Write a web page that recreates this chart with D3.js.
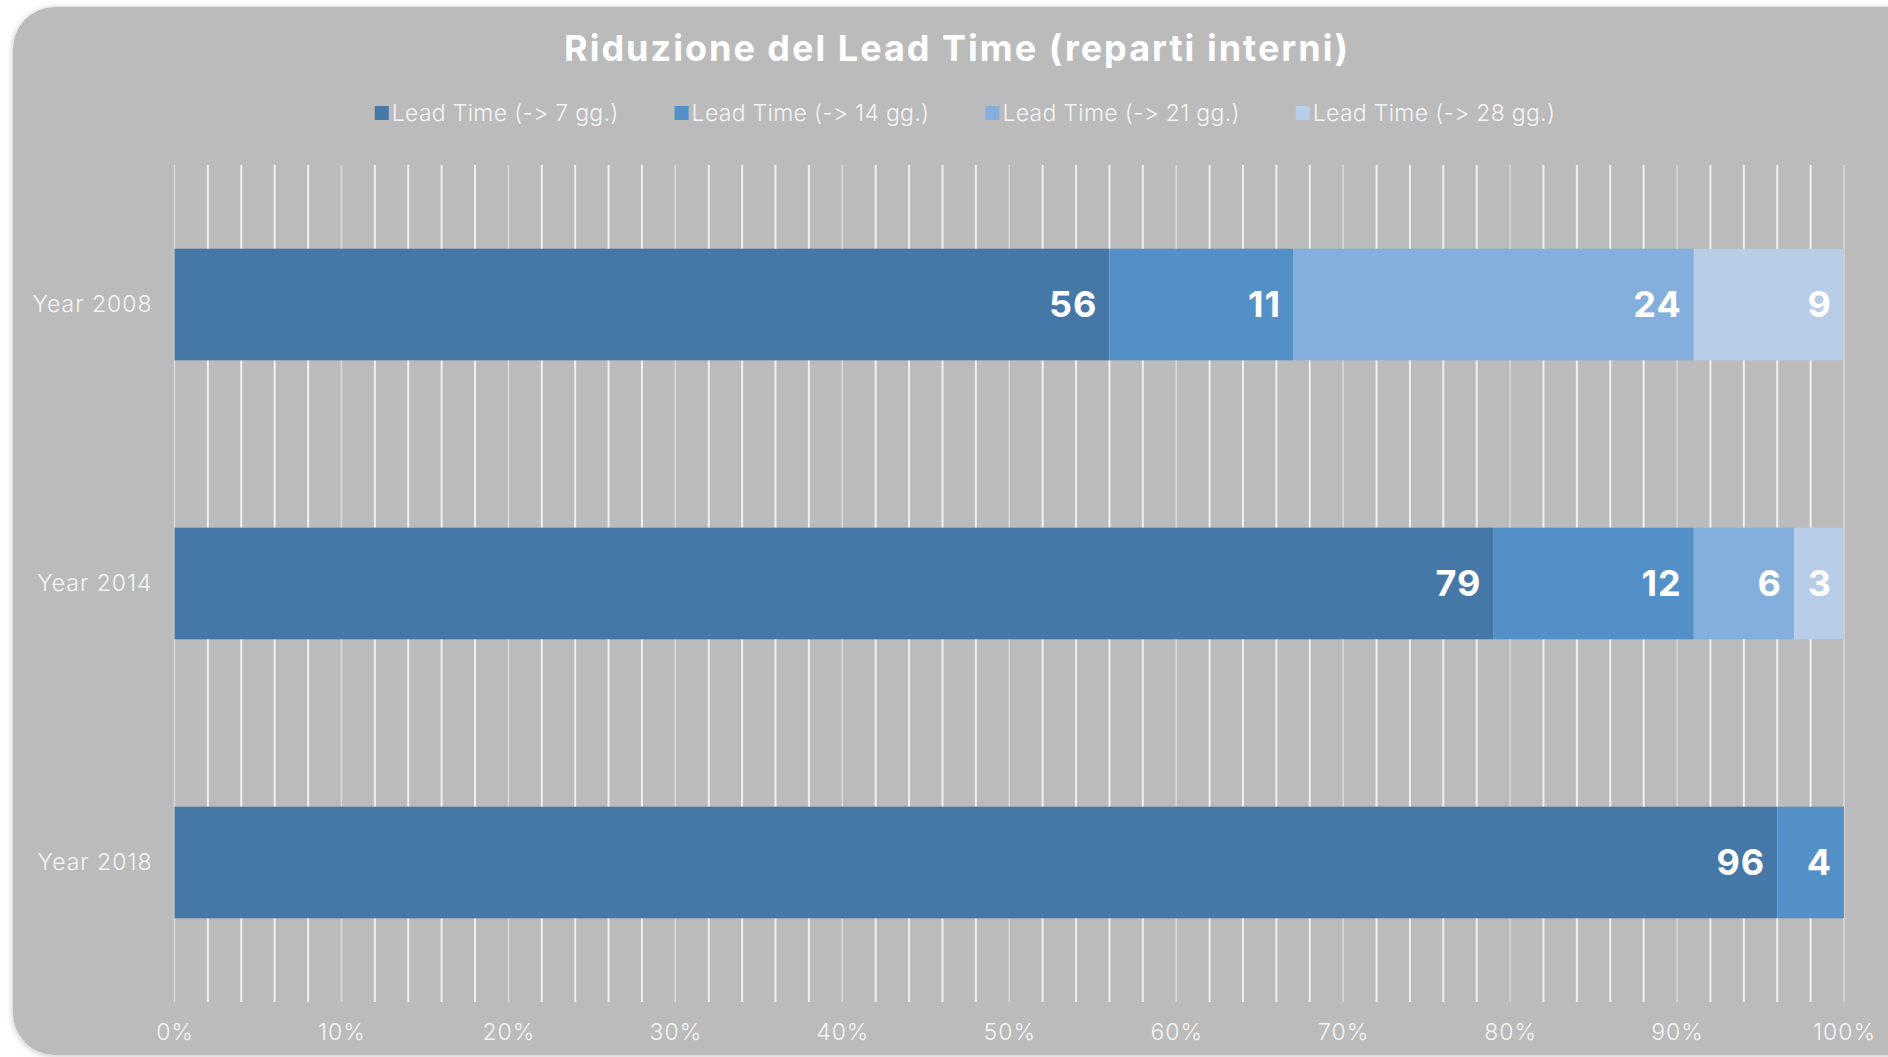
<!DOCTYPE html>
<html>
<head>
<meta charset="utf-8">
<script src="https://cdn.jsdelivr.net/npm/d3@7"></script>
<style>
  html, body { margin: 0; padding: 0; background: #ffffff; }
  svg { display: block; }
  text { font-family: Inter, "Open Sans", sans-serif; font-feature-settings: "calt" 0, "liga" 0; font-variant-ligatures: none; }
</style>
</head>
<body>
<svg id="chart"></svg>
<script>
// data
const categories = ['Year 2008', 'Year 2014', 'Year 2018'];
const seriesNames = ['Lead Time (-> 7 gg.)', 'Lead Time (-> 14 gg.)', 'Lead Time (-> 21 gg.)', 'Lead Time (-> 28 gg.)'];
const lead7 = [56, 79, 96];
const lead14 = [11, 12, 4];
const lead21 = [24, 6, 0];
const lead28 = [9, 3, 0];
const xTicks = [0, 0.1, 0.2, 0.3, 0.4, 0.5, 0.6, 0.7, 0.8, 0.9, 1];
const colors = ['#4577a7', '#5390c7', '#84afdc', '#b8cde8'];

const W = 1888, H = 1057;
const margin = { top: 165, right: 44, bottom: 55, left: 174.5 };
const width = W - margin.left - margin.right;
const height = H - margin.top - margin.bottom;

const svg = d3.select('#chart').attr('width', W).attr('height', H);

// card with shadow
const defs = svg.append('defs');
const f = defs.append('filter').attr('id', 'shadow').attr('x', '-5%').attr('y', '-5%').attr('width', '110%').attr('height', '110%');
f.append('feDropShadow').attr('dx', 0).attr('dy', 1).attr('stdDeviation', 3).attr('flood-color', '#000').attr('flood-opacity', 0.25);
svg.append('rect').attr('x', 13).attr('y', 7).attr('width', W + 40).attr('height', H - 9)
  .attr('rx', 42).attr('fill', '#bbbbbb').attr('filter', 'url(#shadow)');

// title
svg.append('text').attr('x', 957).attr('y', 61).attr('text-anchor', 'middle')
  .attr('fill', '#ffffff').style('font-size', '36px').style('font-weight', 700)
  .style('letter-spacing', '2px')
  .text('Riduzione del Lead Time (reparti interni)');

const rows = categories.map((c, i) => ({ cat: c, s0: lead7[i], s1: lead14[i], s2: lead21[i], s3: lead28[i] }));
const keys = ['s0', 's1', 's2', 's3'];
const stacked = d3.stack().keys(keys)(rows);

const x = d3.scaleLinear().domain([0, 1]).range([0, width]);
const y = d3.scaleBand().domain(categories).range([0, height]).paddingInner(0.6).paddingOuter(0.3);

const g = svg.append('g').attr('transform', 'translate(' + margin.left + ',' + margin.top + ')');

// gridlines every 2%
const grid = d3.range(0, 51).map(d => d / 50);
g.append('g').selectAll('line').data(grid).join('line')
  .attr('x1', d => x(d)).attr('x2', d => x(d))
  .attr('y1', 0).attr('y2', height)
  .attr('stroke', (d, i) => i % 5 === 0 ? '#dadada' : '#f0f0f0')
  .attr('stroke-width', (d, i) => i % 5 === 0 ? 1.5 : 2);

// bars
const layers = g.append('g').selectAll('g').data(stacked).join('g')
  .attr('fill', (d, i) => colors[i]);
layers.selectAll('rect').data(d => d).join('rect')
  .attr('x', d => x(d[0] / 100))
  .attr('width', d => x(d[1] / 100) - x(d[0] / 100))
  .attr('y', d => y(d.data.cat))
  .attr('height', y.bandwidth());

// value labels
layers.each(function(layer) {
  d3.select(this).selectAll('text').data(layer.filter(d => d[1] - d[0] > 0)).join('text')
    .attr('x', d => x(d[1] / 100) - 12)
    .attr('y', d => y(d.data.cat) + y.bandwidth() / 2)
    .attr('dy', '0.36em')
    .attr('text-anchor', 'end')
    .attr('fill', '#ffffff')
    .style('font-size', '36px').style('font-weight', 700)
    .style('letter-spacing', '1px')
    .text(d => d[1] - d[0]);
});

// y axis labels
const yAxis = d3.axisLeft(y).tickSize(0).tickPadding(22);
g.append('g').call(yAxis)
  .call(s => s.select('.domain').remove())
  .selectAll('text').attr('fill', '#f4f4f4').style('font-size', '23px').style('font-weight', 300)
  .style('letter-spacing', '1px');

// x axis labels
const xAxis = d3.axisBottom(x).tickValues(xTicks).tickFormat(d3.format('.0%')).tickSize(0).tickPadding(22);
g.append('g').attr('transform', 'translate(0,' + height + ')').call(xAxis)
  .call(s => s.select('.domain').remove())
  .selectAll('text').attr('fill', '#f4f4f4').style('font-size', '23px').style('font-weight', 300)
  .style('letter-spacing', '1px');

// legend
const legend = svg.append('g').attr('transform', 'translate(0,113)');
const items = legend.selectAll('g').data(seriesNames).join('g');
items.append('rect').attr('x', 0).attr('y', -7).attr('width', 14).attr('height', 14).attr('fill', (d, i) => colors[i]);
items.append('text').attr('x', 17).attr('dy', '0.35em').attr('fill', '#f4f4f4')
  .style('font-size', '23px').style('font-weight', 300).style('letter-spacing', '0.3px').text(d => d);
let pos = 0;
const gap = 56;
const offsets = [];
items.each(function() {
  offsets.push(pos);
  pos += this.getBBox().width + gap;
});
const total = pos - gap;
const start = 965 - total / 2;
items.attr('transform', (d, i) => 'translate(' + (start + offsets[i]) + ',0)');
</script>
</body>
</html>
